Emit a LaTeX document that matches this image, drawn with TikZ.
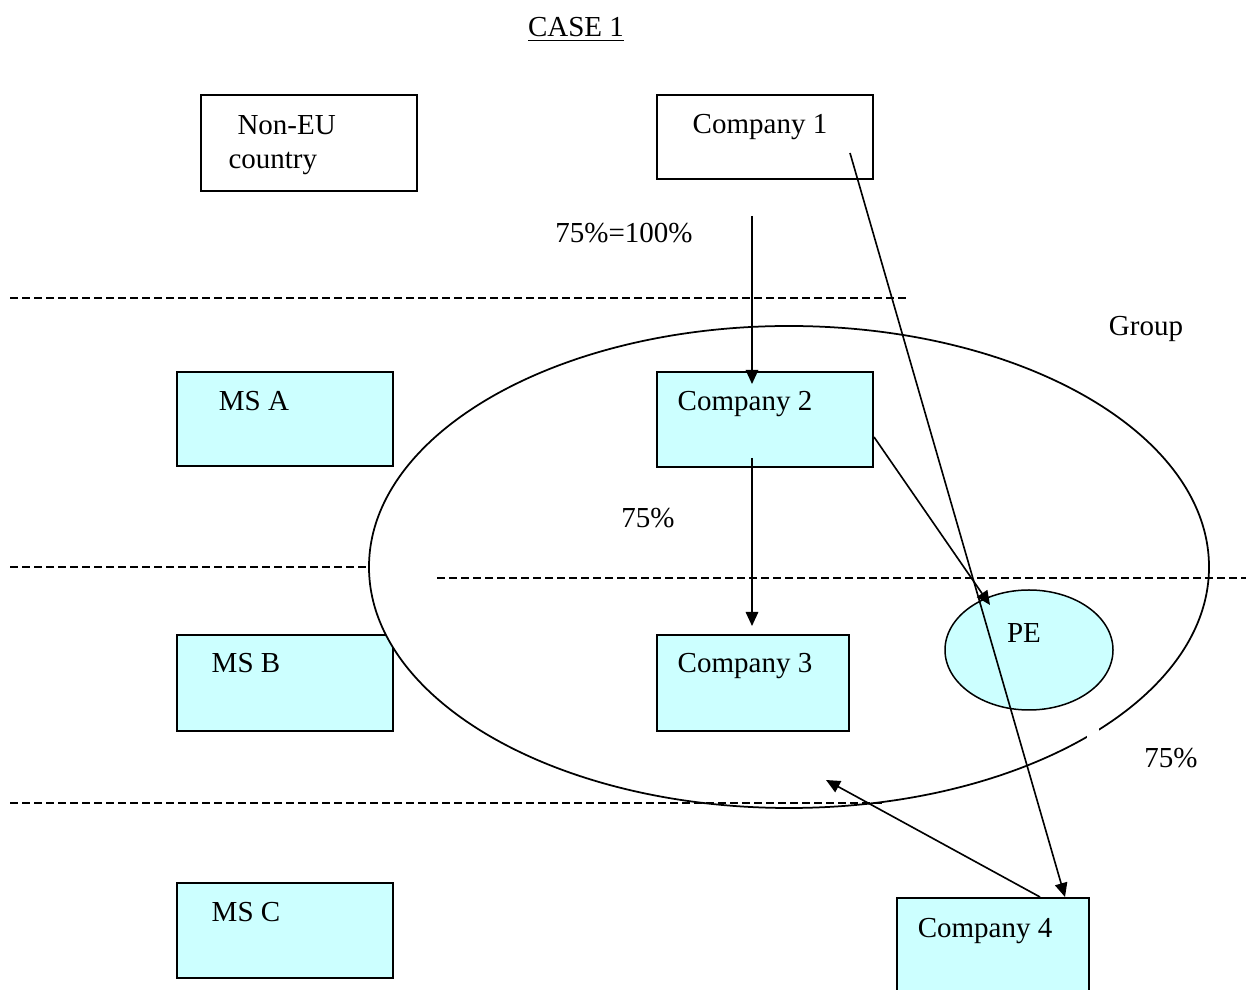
\documentclass[tikz,border=0pt]{standalone}
\usepackage{fontspec}
\setmainfont{Liberation Serif}
\usetikzlibrary{arrows.meta,shapes.geometric}
\definecolor{cyanbox}{HTML}{CCFFFF}
\begin{document}
\begin{tikzpicture}[x=0.4pt, y=-0.4pt, font=\fontsize{11.6}{13.6}\selectfont,
box/.style={draw, line width=0.8pt, fill=white, inner sep=0},
msbox/.style={box, fill=cyanbox},
txt/.style={inner sep=0, anchor=base},
divider/.style={dash pattern=on 3.2pt off 1.6pt, line width=0.5pt},
arr/.style={-{Triangle[length=5.6pt,width=5pt]}, line width=0.65pt}]
\useasboundingbox (0,0) rectangle (1246,990);
\node[txt] (title) at (576,37) {\underline{CASE 1}};
\node[box, minimum width=86.4pt, minimum height=38.4pt] (noneu) at (309,143) {};
\node[txt, align=left, anchor=north west] (noneutxt) at (228,115) {\hspace{3.6pt}Non-EU\\country};
\node[box, minimum width=86.4pt, minimum height=33.6pt] (c1) at (765,137) {};
\node[txt] (c1txt) at (760,134) {Company 1};
\node[txt] (share1) at (624,243) {75\%=100\%};
\draw[divider] (10,298) -- (907,298);
\draw[divider] (10,567) -- (369,567);
\node[txt] (grouptxt) at (1146,336) {Group};
\node[msbox, minimum width=86.4pt, minimum height=37.6pt] (msa) at (285,419) {};
\node[txt] (msatxt) at (254,411) {MS A};
\node[msbox, minimum width=86.4pt, minimum height=38.4pt] (msb) at (285,683) {};
\node[txt] (msbtxt) at (246,673) {MS B};
\node[ellipse, draw, fill=white, line width=0.7pt, inner sep=0, minimum width=336pt, minimum height=192.8pt] (group) at (789,567) {};
\fill[white] (1087,727) rectangle (1099,738);
\draw[divider] (437,578) -- (1246,578);
\draw[divider] (10,803) -- (885,803);
\node[msbox, minimum width=86.4pt, minimum height=38pt] (c2) at (765,419.5) {};
\node[txt] (c2txt) at (745,411) {Company 2};
\node[txt] (share2) at (648,528) {75\%};
\node[msbox, minimum width=76.8pt, minimum height=38.4pt] (c3) at (753,683) {};
\node[txt] (c3txt) at (745,673) {Company 3};
\node[ellipse, draw, fill=cyanbox, line width=0.6pt, inner sep=0, minimum width=67.2pt, minimum height=48pt] (pe) at (1029,650) {};
\node[txt] (petxt) at (1024,643) {PE};
\node[txt] (share3) at (1171,768) {75\%};
\node[msbox, minimum width=86.4pt, minimum height=38pt] (msc) at (285,930.5) {};
\node[txt] (msctxt) at (246,921) {MS C};
\node[msbox, minimum width=76.8pt, minimum height=44pt] (c4) at (993,953) {};
\node[txt] (c4txt) at (985,937) {Company 4};
\coordinate (c1out) at (752,216);
\coordinate (c2in) at (752,384);
\coordinate (c2out) at (752,458);
\coordinate (c3in) at (752,626);
\coordinate (pein) at (990,605);
\coordinate (c1src) at (850,153);
\coordinate (grpin) at (826,780);
\draw[arr] (c1out) -- (c2in);
\draw[arr] (c2out) -- (c3in);
\draw[arr] ([yshift=-7pt]c2.east) -- (pein);
\draw[arr] (c1src) -- ([xshift=28.8pt]c4.north);
\draw[arr] ([xshift=18.8pt]c4.north) -- (grpin);
\end{tikzpicture}
\end{document}
